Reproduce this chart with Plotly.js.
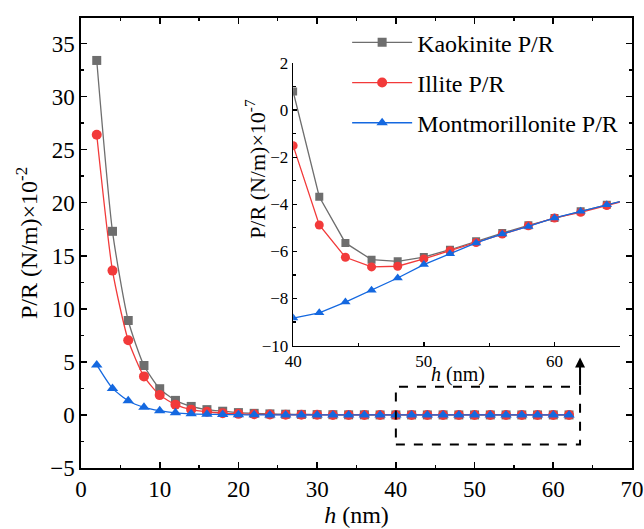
<!DOCTYPE html>
<html>
<head>
<meta charset="utf-8">
<script src="https://cdn.plot.ly/plotly-3.0.1.min.js"></script>
<style>html,body{margin:0;padding:0;background:#fff;}#chart{width:644px;height:529px;}</style>
</head>
<body>
<div id="chart"></div>
<script>
// Main chart data (P/R in units of 1e-2 N/m)
var hMain = [2,4,6,8,10,12,14,16,18,20,22,24,26,28,30,32,34,36,38,40,42,44,46,48,50,52,54,56,58,60,62];
var kaolMain = [33.4,17.3,8.9,4.66,2.47,1.37,0.8,0.5,0.35,0.22,0.15,0.1,0.07,0.05,0.03,0.02,0.01,0.01,0,0,0,0,0,0,0,0,0,0,0,0,0];
var illiteMain = [26.4,13.6,7.03,3.63,1.87,0.97,0.5,0.3,0.17,0.1,0.06,0.04,0.02,0.01,0.01,0,0,0,0,0,0,0,0,0,0,0,0,0,0,0,0];
var montMain = [4.71,2.5,1.34,0.72,0.4,0.2,0.1,0.06,0.03,0.02,0.01,0,0,0,0,0,0,0,0,0,0,0,0,0,0,0,0,0,0,0,0];

// Inset data (P/R in units of 1e-7 N/m)
var hInset = [40,42,44,46,48,50,52,54,56,58,60,62,64,66];
var kaolInset = [0.79,-3.68,-5.64,-6.35,-6.42,-6.24,-5.93,-5.57,-5.22,-4.89,-4.58,-4.3,-4.02,-3.75];
var illiteInset = [-1.51,-4.88,-6.25,-6.66,-6.63,-6.32,-5.97,-5.62,-5.26,-4.91,-4.58,-4.34,-4.05,-3.76];
var montInset = [-8.83,-8.61,-8.15,-7.65,-7.13,-6.56,-6.1,-5.64,-5.26,-4.94,-4.58,-4.3,-4.02,-3.75];

var names = ['Kaokinite P/R','Illite P/R','Montmorillonite P/R'];
var colors = ['#6e6e6e','#f23a3a','#1468e0'];
var symbols = ['square','circle','triangle-up'];
var sizes = [9,10,10];

var mainY = [kaolMain, illiteMain, montMain];
var insetY = [kaolInset, illiteInset, montInset];

var SERIF = "'Liberation Serif', 'Times New Roman', Times, serif";
var traces = [];
for (var i = 0; i < 3; i++) {
  traces.push({
    x: hMain, y: mainY[i], name: names[i], type: 'scatter', mode: 'lines+markers',
    line: {color: colors[i], width: 1.3, shape: 'spline', smoothing: 0.6},
    marker: {symbol: symbols[i], size: sizes[i], color: colors[i]},
    legendgroup: 'g' + i, showlegend: true, xaxis: 'x', yaxis: 'y'
  });
}
for (var j = 0; j < 3; j++) {
  traces.push({
    x: hInset, y: insetY[j], name: names[j], type: 'scatter', mode: 'lines+markers',
    line: {color: colors[j], width: 1.3},
    marker: {symbol: symbols[j], size: sizes[j] - 1, color: colors[j]},
    legendgroup: 'g' + j, showlegend: false, xaxis: 'x2', yaxis: 'y2'
  });
}

var axBase = {
  showline: true, linecolor: '#000', linewidth: 1.6, mirror: 'allticks',
  ticks: 'inside', ticklen: 6, tickwidth: 1.6, tickcolor: '#000',
  showgrid: false, zeroline: false,
  tickfont: {family: SERIF, size: 23, color: '#000'}
};

var layout = {
  width: 644, height: 529,
  margin: {l: 81, r: 12, t: 18, b: 61},
  paper_bgcolor: '#fff', plot_bgcolor: '#fff',
  showlegend: true,
  legend: {x: 0.483, y: 0.995, xanchor: 'left', yanchor: 'top', bgcolor: 'rgba(0,0,0,0)',
           font: {family: SERIF, size: 24, color: '#000'}, tracegroupgap: 6, itemwidth: 60},
  xaxis: Object.assign({}, axBase, {
    range: [0, 70], dtick: 10, tick0: 0,
    minor: {dtick: 5, ticks: 'inside', ticklen: 3, tickwidth: 1.4, tickcolor: '#000'},
    title: {text: '<i>h</i> (nm)', font: {family: SERIF, size: 24, color: '#000'}, standoff: 4},
    domain: [0, 1]
  }),
  yaxis: Object.assign({}, axBase, {
    range: [-5, 37.4], dtick: 5, tick0: 0,
    minor: {dtick: 2.5, ticks: 'inside', ticklen: 3, tickwidth: 1.4, tickcolor: '#000'},
    title: {text: 'P/R (N/m)×10<sup>-2</sup>', font: {family: SERIF, size: 24, color: '#000'}, standoff: 6},
    domain: [0, 1]
  }),
  xaxis2: {
    domain: [0.385, 0.978], anchor: 'y2', range: [40, 65], dtick: 10, tick0: 40,
    showline: true, linecolor: '#000', linewidth: 1.4, mirror: false,
    ticks: 'inside', ticklen: 4, tickwidth: 1.4, tickcolor: '#000',
    minor: {dtick: 5, ticks: 'inside', ticklen: 2.5, tickwidth: 1.2, tickcolor: '#000'},
    showgrid: false, zeroline: false,
    tickfont: {family: SERIF, size: 17, color: '#000'}
  },
  yaxis2: {
    domain: [0.272, 0.900], anchor: 'x2', range: [-10, 2], dtick: 2, tick0: 0,
    showline: true, linecolor: '#000', linewidth: 1.4, mirror: false,
    ticks: 'inside', ticklen: 4, tickwidth: 1.4, tickcolor: '#000',
    minor: {dtick: 1, ticks: 'inside', ticklen: 2.5, tickwidth: 1.2, tickcolor: '#000'},
    showgrid: false, zeroline: false,
    tickfont: {family: SERIF, size: 17, color: '#000'}
  },
  shapes: [{
    type: 'rect', xref: 'x', yref: 'y', x0: 40, x1: 63.4, y0: -2.78, y1: 2.66,
    line: {color: '#000', width: 2, dash: 'dash'}, fillcolor: 'rgba(0,0,0,0)'
  }],
  annotations: [{
    xref: 'x', yref: 'y', axref: 'x', ayref: 'y',
    x: 63.4, y: 5.4, ax: 63.4, ay: 2.66,
    showarrow: true, arrowhead: 2, arrowsize: 1, arrowwidth: 2, arrowcolor: '#000', text: ''
  }, {
    xref: 'paper', yref: 'paper', x: 0.685, y: 0.207, xanchor: 'center', yanchor: 'middle',
    showarrow: false, text: '<i>h</i> (nm)', font: {family: SERIF, size: 20, color: '#000'}
  }, {
    xref: 'paper', yref: 'paper', x: 0.316, y: 0.665, xanchor: 'center', yanchor: 'middle',
    textangle: -90, showarrow: false, text: 'P/R (N/m)×10<sup>-7</sup>',
    font: {family: SERIF, size: 22, color: '#000'}
  }]
};

Plotly.newPlot('chart', traces, layout, {displayModeBar: false, staticPlot: true});
</script>
</body>
</html>
